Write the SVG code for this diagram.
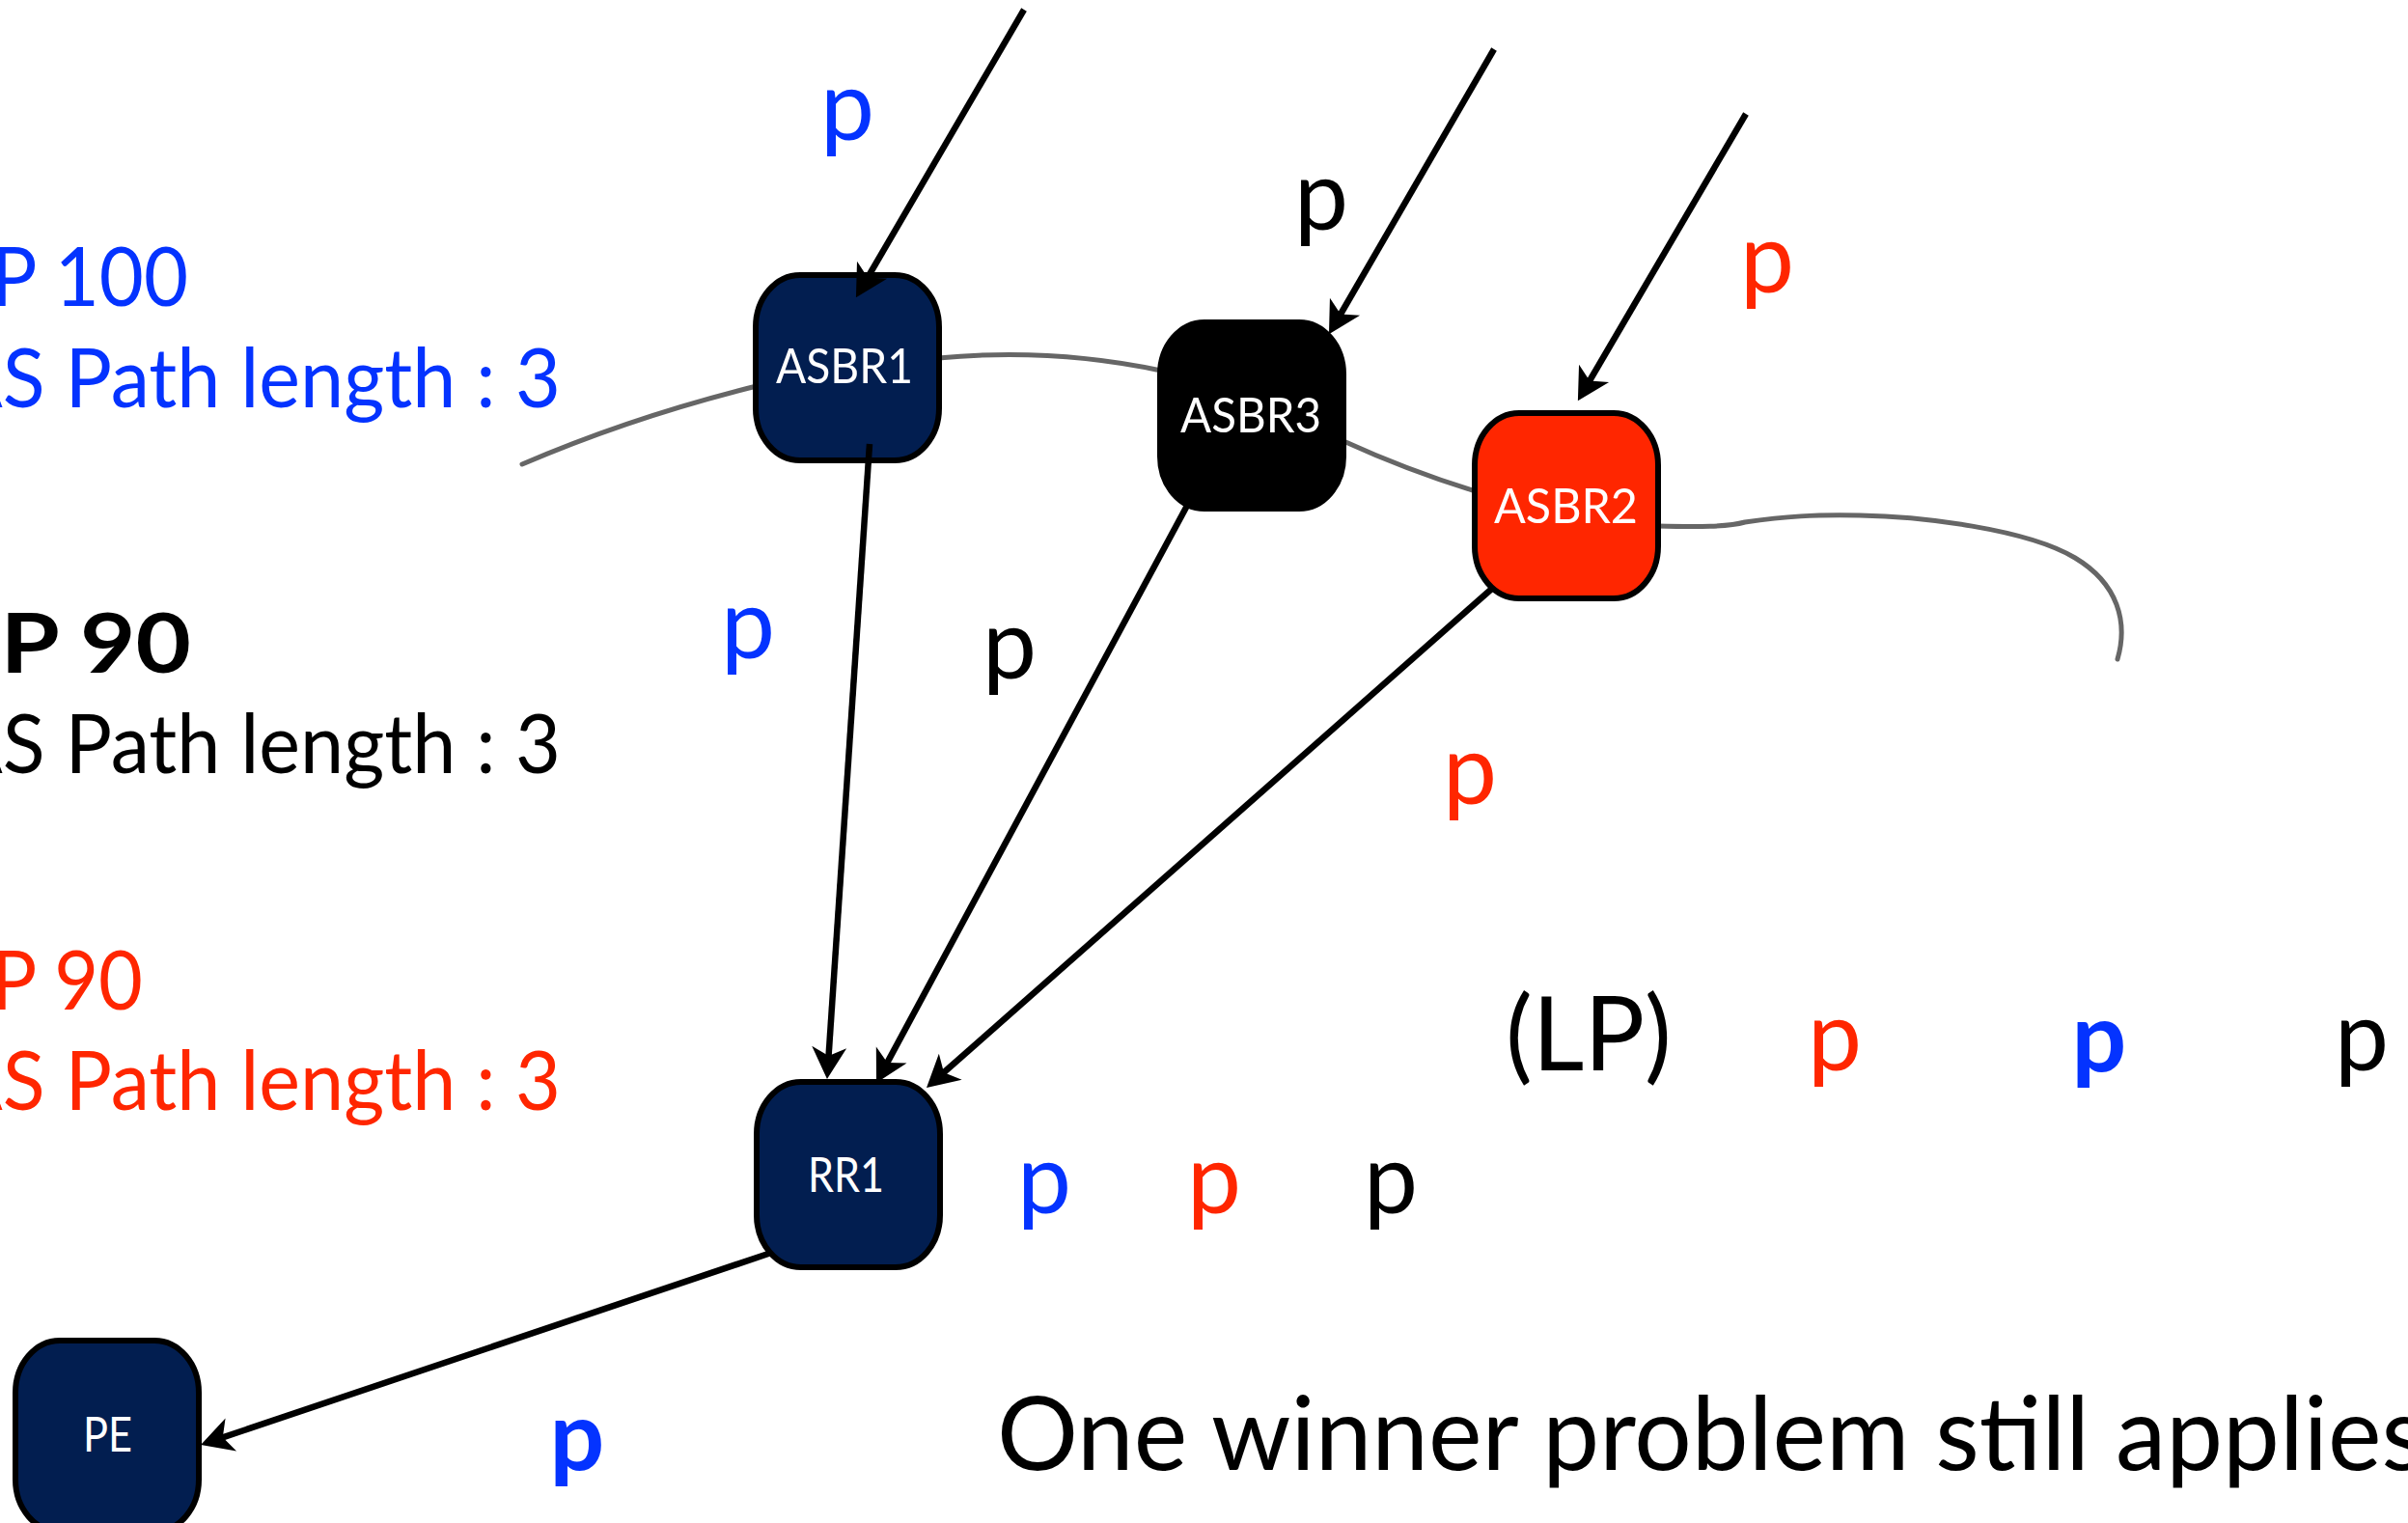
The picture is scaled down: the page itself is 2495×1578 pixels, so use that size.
<svg xmlns="http://www.w3.org/2000/svg" width="2495" height="1578" viewBox="0 0 2495 1578">
  <defs>
    <style>
      text { font-family: "Lato", "Liberation Sans", sans-serif; }
      .blue { fill: #0433ff; }
      .red { fill: #ff2600; }
      .black { fill: #000000; }
      .side { font-size: 86px; }
      .big { font-size: 106px; }
      .p { font-size: 100px; text-anchor: middle; }
      .bold { font-weight: 700; }
      .box { stroke: #000000; stroke-width: 6; }
      .navy { fill: #021e50; }
      .redbox { fill: #ff2600; }
      .blackbox { fill: #000000; }
      .lbl { font-size: 51px; fill: #ffffff; }
      .ring { fill: none; stroke: #666666; stroke-width: 5; stroke-linecap: round; }
      .edge { fill: none; stroke: #000000; stroke-width: 6.5; }
    </style>
    <marker id="head" viewBox="-15 -20 40 40" markerWidth="40" markerHeight="40" refX="0" refY="0" markerUnits="userSpaceOnUse" orient="auto">
      <path d="M20 0 L-13 -18 L-4 0 L-13 18 Z" fill="#000000"/>
    </marker>
  </defs>

  <rect x="0" y="0" width="2495" height="1578" fill="#ffffff"/>

  <!-- attribute legend on the left -->
  <g id="legend">
    <text class="side blue" x="-50" y="317" textLength="245" lengthAdjust="spacingAndGlyphs">LP 100</text>
    <text class="side blue" x="-52" y="422" textLength="633" lengthAdjust="spacingAndGlyphs">AS Path length : 3</text>
    <text class="side black bold" x="-51" y="697" textLength="249" lengthAdjust="spacingAndGlyphs">LP 90</text>
    <text class="side black" x="-52" y="801" textLength="633" lengthAdjust="spacingAndGlyphs">AS Path length : 3</text>
    <text class="side red" x="-50" y="1046" textLength="198" lengthAdjust="spacingAndGlyphs">LP 90</text>
    <text class="side red" x="-52" y="1150" textLength="633" lengthAdjust="spacingAndGlyphs">AS Path length : 3</text>
  </g>

  <!-- AS boundary line running behind the border routers -->
  <g id="boundary">
    <path class="ring" d="M541 481 Q655 432 784 400"/>
    <path class="ring" d="M972 371 Q1090 360 1203 384"/>
    <path class="ring" d="M1392 457 Q1460 488 1529 509"/>
    <path class="ring" d="M1717 545 C1760 546 1790 546 1808 541 C1850 535 1880 533 1927 534 C1990 535 2100 548 2150 578 C2195 605 2205 645 2194 683"/>
  </g>

  <!-- routers -->
  <g id="asbr1">
    <rect class="box navy" x="783" y="285" width="190" height="192" rx="46" ry="54"/>
    <text class="lbl" x="804" y="397" textLength="142" lengthAdjust="spacingAndGlyphs">ASBR1</text>
  </g>
  <g id="asbr3">
    <rect class="box blackbox" x="1202" y="334" width="190" height="193" rx="46" ry="54"/>
    <text class="lbl" x="1223" y="448" textLength="146" lengthAdjust="spacingAndGlyphs">ASBR3</text>
  </g>
  <g id="asbr2">
    <rect class="box redbox" x="1528" y="428" width="190" height="192" rx="46" ry="54"/>
    <text class="lbl" x="1548" y="542" textLength="149" lengthAdjust="spacingAndGlyphs">ASBR2</text>
  </g>
  <g id="rr1">
    <rect class="box navy" x="784" y="1121" width="190" height="192" rx="46" ry="54"/>
    <text class="lbl" x="837" y="1235" textLength="79" lengthAdjust="spacingAndGlyphs">RR1</text>
  </g>
  <g id="pe">
    <rect class="box navy" x="16" y="1389" width="190" height="198" rx="46" ry="54"/>
    <text class="lbl" x="86" y="1504" textLength="51" lengthAdjust="spacingAndGlyphs">PE</text>
  </g>

  <!-- route advertisements -->
  <g id="connectors">
    <path class="edge" d="M1061 10 L897 291" marker-end="url(#head)"/>
    <path class="edge" d="M1548 51 L1387 329" marker-end="url(#head)"/>
    <path class="edge" d="M1809 118 L1645 398" marker-end="url(#head)"/>
    <path class="edge" d="M901 460 L858.3 1098" marker-end="url(#head)"/>
    <path class="edge" d="M1231 522 L917.5 1104.4" marker-end="url(#head)"/>
    <path class="edge" d="M1548 608 L975 1113.8" marker-end="url(#head)"/>
    <path class="edge" d="M799 1298 L227 1490.6" marker-end="url(#head)"/>
  </g>

  <!-- prefix labels -->
  <g id="prefixes">
    <text class="p blue" x="878" y="145">p</text>
    <text class="p black" x="1369" y="238">p</text>
    <text class="p red" x="1831" y="303">p</text>
    <text class="p blue" x="775" y="682">p</text>
    <text class="p black" x="1046" y="703">p</text>
    <text class="p red" x="1523" y="833">p</text>
    <text class="p blue" x="1082" y="1257">p</text>
    <text class="p red" x="1258" y="1257">p</text>
    <text class="p black" x="1441" y="1257">p</text>
    <text class="p red" x="1901" y="1109">p</text>
    <text class="p blue bold" x="2175" y="1110">p</text>
    <text class="p black" x="2447" y="1109">p</text>
    <text class="p blue bold" x="598" y="1523">p</text>
  </g>

  <g id="notes">
    <text class="big black" x="1560" y="1109" textLength="172" lengthAdjust="spacingAndGlyphs">(LP)</text>
    <text class="big black" x="1033" y="1523" textLength="1480" lengthAdjust="spacingAndGlyphs">One winner problem still applies</text>
  </g>
</svg>
